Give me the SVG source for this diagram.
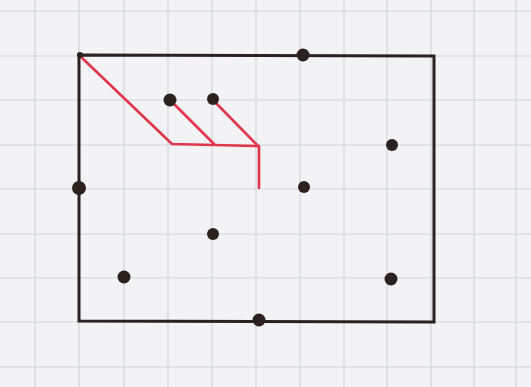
<svg xmlns="http://www.w3.org/2000/svg" width="531" height="387" viewBox="0 0 531 387">
<style>
.g{stroke:#d3d5dc;stroke-width:1.2}
.box{fill:none;stroke:#2b2220;stroke-width:3}
.dot{fill:#2b2220}
.red{fill:none;stroke:#e0364a;stroke-width:2.6;stroke-linecap:round;stroke-linejoin:round}
</style>
<rect width="531" height="387" fill="#f3f3f5"/>
<g id="grid">
<line class="g" x1="35" y1="0" x2="35" y2="387"/>
<line class="g" x1="79" y1="0" x2="79" y2="387"/>
<line class="g" x1="124" y1="0" x2="124" y2="387"/>
<line class="g" x1="168" y1="0" x2="168" y2="387"/>
<line class="g" x1="212" y1="0" x2="212" y2="387"/>
<line class="g" x1="256" y1="0" x2="256" y2="387"/>
<line class="g" x1="300" y1="0" x2="300" y2="387"/>
<line class="g" x1="344" y1="0" x2="344" y2="387"/>
<line class="g" x1="387" y1="0" x2="387" y2="387"/>
<line class="g" x1="431" y1="0" x2="431" y2="387"/>
<line class="g" x1="474" y1="0" x2="474" y2="387"/>
<line class="g" x1="516" y1="0" x2="516" y2="387"/>
<line class="g" x1="0" y1="11" x2="531" y2="11"/>
<line class="g" x1="0" y1="56" x2="531" y2="56"/>
<line class="g" x1="0" y1="100" x2="531" y2="100"/>
<line class="g" x1="0" y1="145" x2="531" y2="145"/>
<line class="g" x1="0" y1="189" x2="531" y2="189"/>
<line class="g" x1="0" y1="234" x2="531" y2="234"/>
<line class="g" x1="0" y1="278" x2="531" y2="278"/>
<line class="g" x1="0" y1="322" x2="531" y2="322"/>
<line class="g" x1="0" y1="367" x2="531" y2="367"/>
</g>
<g id="connectors">
<polyline class="red" points="80,56 172,144 259,146 259,188"/>
<line class="red" x1="170" y1="100" x2="214" y2="144"/>
<line class="red" x1="213" y1="100" x2="258" y2="146"/>
</g>
<g id="box"><polygon class="box" points="79,55 434,56 434,322 79,321"/></g>
<g id="dots">
<circle id="d1" class="dot" cx="303" cy="55" r="6.5"/>
<circle id="d2" class="dot" cx="170" cy="100" r="6.5"/>
<circle id="d3" class="dot" cx="213" cy="99" r="6"/>
<circle id="d4" class="dot" cx="392" cy="145" r="6"/>
<circle id="d5" class="dot" cx="79" cy="188" r="7"/>
<circle id="d6" class="dot" cx="304" cy="187" r="6"/>
<circle id="d7" class="dot" cx="213" cy="234" r="6"/>
<circle id="d8" class="dot" cx="124" cy="277" r="6.5"/>
<circle id="d9" class="dot" cx="391" cy="279" r="6.5"/>
<circle id="d10" class="dot" cx="259" cy="320" r="6.5"/>
<circle class="dot" cx="80" cy="55" r="3"/>
</g>
</svg>
